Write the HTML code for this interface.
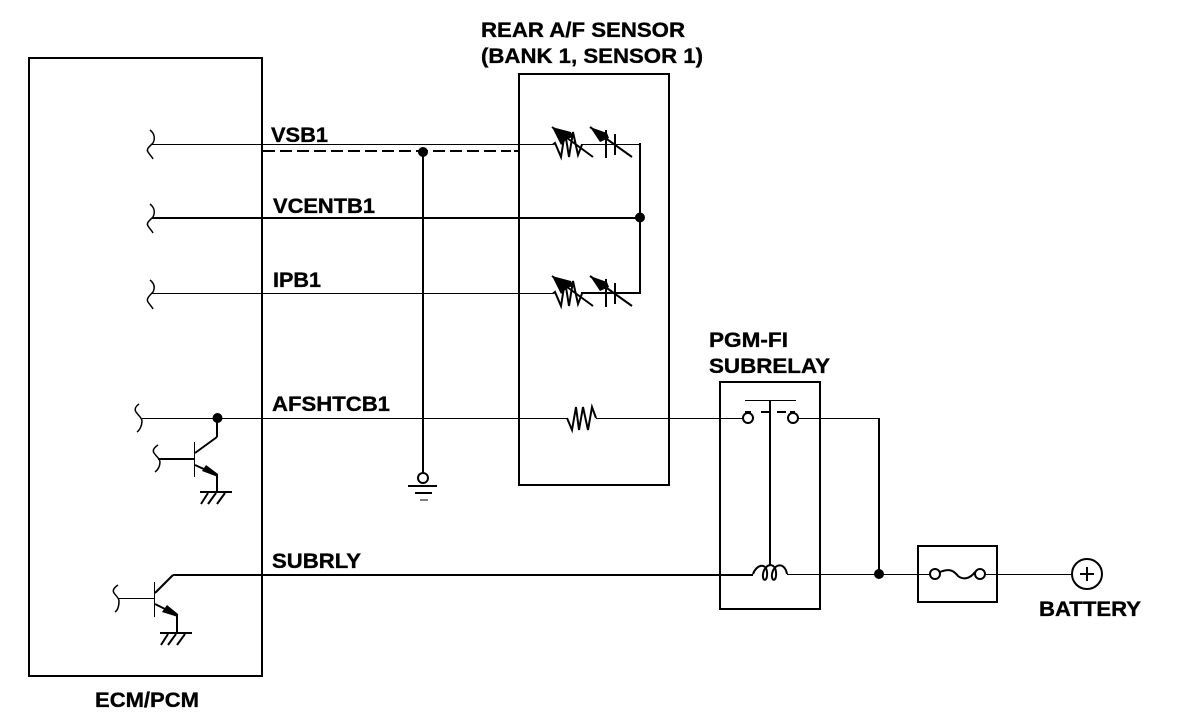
<!DOCTYPE html>
<html>
<head>
<meta charset="utf-8">
<style>
html,body{margin:0;padding:0;background:#fff;width:1184px;height:728px;overflow:hidden}
svg{display:block}
text{font-family:"Liberation Sans",sans-serif;font-weight:bold;font-size:21px;fill:#000;stroke:#000;stroke-width:.35px}
</style>
</head>
<body>
<svg width="1184" height="728" viewBox="0 0 1184 728" xmlns="http://www.w3.org/2000/svg">
<rect width="1184" height="728" fill="#fff"/>
<defs>
<g id="sensorRes">
<path d="M553,144.5 L555,143 L561,157 L565,132 L569,157 L573,132 L578,155 L582,144.5" fill="none" stroke="#000" stroke-width="2"/>
<path d="M552,127 L593,157" fill="none" stroke="#000" stroke-width="2"/>
<path d="M552,127 L571,132 L573,137 L567,139 L561,145 Z" fill="#000"/>
<path d="M590,127 L632,157" fill="none" stroke="#000" stroke-width="2"/>
<path d="M590,127 L607,133 L609,138 L600,142 Z" fill="#000"/>
<path d="M606,130 V158 M615,134 V155" stroke="#000" stroke-width="2" fill="none"/>
</g>
<g id="gnd">
<path d="M0,0 H32" stroke="#000" stroke-width="2" shape-rendering="crispEdges"/>
<path d="M8,1 L1,12 M16,1 L8,12 M25,1 L17,12" stroke="#000" stroke-width="2"/>
</g>
</defs>

<!-- straight lines, crisp -->
<g fill="none" stroke="#000" shape-rendering="crispEdges">
<rect x="29" y="58" width="233" height="618" stroke-width="2"/>
<rect x="519" y="74" width="150" height="411" stroke-width="2"/>
<rect x="720" y="382" width="100" height="227" stroke-width="2"/>
<rect x="918" y="546" width="79" height="56" stroke-width="2"/>

<path d="M152,144.5 H553" stroke-width="1"/>
<path d="M263,151 H511 M514,151 H519" stroke-width="2" stroke-dasharray="12 5"/>
<path d="M581,144.5 H640" stroke-width="1"/>
<path d="M640,143 V294" stroke-width="2"/>
<path d="M152,218 H640" stroke-width="2"/>
<path d="M152,293.5 H553" stroke-width="1"/>
<path d="M581,293 H641" stroke-width="2"/>

<path d="M423,152 V473" stroke-width="2"/>
<path d="M408,486 H437" stroke-width="2"/>
<path d="M415,493 H432" stroke-width="2"/>
<path d="M420,500 H428" stroke-width="1"/>

<path d="M142,418.5 H567" stroke-width="1"/>
<path d="M596,418.5 H743" stroke-width="1"/>
<path d="M798,418.5 H879" stroke-width="1"/>
<path d="M879,418 V574" stroke-width="2"/>

<path d="M217,418 V437" stroke-width="2"/>
<path d="M194.5,442 V477" stroke-width="1"/>
<path d="M158,459 H194" stroke-width="2"/>
<path d="M217,475 V492" stroke-width="2"/>

<path d="M173,575 H753" stroke-width="2"/>
<path d="M154.5,582 V617" stroke-width="1"/>
<path d="M118,598.5 H154" stroke-width="1"/>
<path d="M177,615 V633" stroke-width="2"/>

<path d="M745,400.5 H796" stroke-width="1"/>
<path d="M770,400 V566" stroke-width="2"/>
<path d="M745,412 H751 M761,412 H770 M777,412 H786 M790,412 H795" stroke-width="2"/>
<path d="M787,574.5 H930" stroke-width="1"/>
<path d="M985,574.5 H1072" stroke-width="1"/>
<path d="M1080,574 H1094 M1087,567 V581" stroke-width="2"/>
</g>

<!-- curved / diagonal -->
<g fill="none" stroke="#000">
<path d="M150,130 C155,134 155,139 153,143 C149,147 146,149 148,152 C150,155 152,157 153,159" stroke-width="1.5"/>
<path d="M150,204 C155,208 155,213 153,217 C149,221 146,223 148,226 C150,229 152,231 153,233" stroke-width="1.5"/>
<path d="M150,280 C155,284 155,288 153,292 C149,296 146,299 148,302 C150,305 152,307 153,309" stroke-width="1.5"/>
<path d="M139,404 C136,406 134,409 136,412 C138,415 142,418 142,421 C142,425 140,430 137,432" stroke-width="1.5"/>
<path d="M158,445 C155,447 152,450 154,453 C156,456 160,459 160,462 C160,466 158,470 155,472" stroke-width="1.5"/>
<path d="M118,585 C115,587 112,590 114,593 C116,596 119,598 119,601 C119,605 118,610 115,612" stroke-width="1.5"/>

<circle cx="423" cy="478" r="5" stroke-width="2"/>
<path d="M217,437 L195,453" stroke-width="2"/>
<path d="M195,465 L217,475" stroke-width="2"/>
<path d="M155,593 L173,575" stroke-width="2"/>
<path d="M155,604 L177,615" stroke-width="2"/>

<circle cx="748" cy="418" r="5" stroke-width="2"/>
<circle cx="793" cy="418" r="5" stroke-width="2"/>
<path d="M753,574 C756,565 766,562 767,572 C768,582 762,582 763,574 C765,563 775,562 776,572 C777,582 771,582 772,574 C774,563 785,562 787,574" stroke-width="2"/>

<circle cx="935" cy="574" r="5" stroke-width="2"/>
<circle cx="980" cy="574" r="5" stroke-width="2"/>
<path d="M940,572 C950,568 954,571 958,576 C963,580 970,579 975,572" stroke-width="2"/>
<circle cx="1087" cy="574" r="15" stroke-width="2"/>

<path d="M567,418 L572,430 L576,407 L579,430 L583,407 L588,430 L592,407 L596,418" stroke-width="2"/>
</g>

<use href="#sensorRes"/>
<use href="#sensorRes" y="149"/>
<use href="#gnd" x="200" y="492"/>
<use href="#gnd" x="160" y="633"/>

<!-- transistor arrowheads -->
<path d="M202,471 L206,465 L218,474 L218,477 Z" fill="#000"/>
<path d="M162,612 L167,605 L178,614 L178,617 Z" fill="#000"/>

<!-- dots -->
<g fill="#000">
<circle cx="423" cy="152" r="5"/>
<circle cx="640" cy="217.5" r="5"/>
<circle cx="217.5" cy="418" r="5"/>
<circle cx="879" cy="574" r="5"/>
</g>

<!-- labels -->
<text x="481" y="37" textLength="204" lengthAdjust="spacingAndGlyphs">REAR A/F SENSOR</text>
<text x="481" y="63" textLength="222" lengthAdjust="spacingAndGlyphs">(BANK 1, SENSOR 1)</text>
<text x="271" y="142" textLength="57" lengthAdjust="spacingAndGlyphs">VSB1</text>
<text x="273" y="213" textLength="102" lengthAdjust="spacingAndGlyphs">VCENTB1</text>
<text x="273" y="287" textLength="48" lengthAdjust="spacingAndGlyphs">IPB1</text>
<text x="272" y="411" textLength="118" lengthAdjust="spacingAndGlyphs">AFSHTCB1</text>
<text x="272" y="568" textLength="89" lengthAdjust="spacingAndGlyphs">SUBRLY</text>
<text x="709" y="347" textLength="79" lengthAdjust="spacingAndGlyphs">PGM-FI</text>
<text x="709" y="373" textLength="121" lengthAdjust="spacingAndGlyphs">SUBRELAY</text>
<text x="1039" y="616" textLength="102" lengthAdjust="spacingAndGlyphs">BATTERY</text>
<text x="95" y="707" textLength="104" lengthAdjust="spacingAndGlyphs">ECM/PCM</text>
</svg>
</body>
</html>
